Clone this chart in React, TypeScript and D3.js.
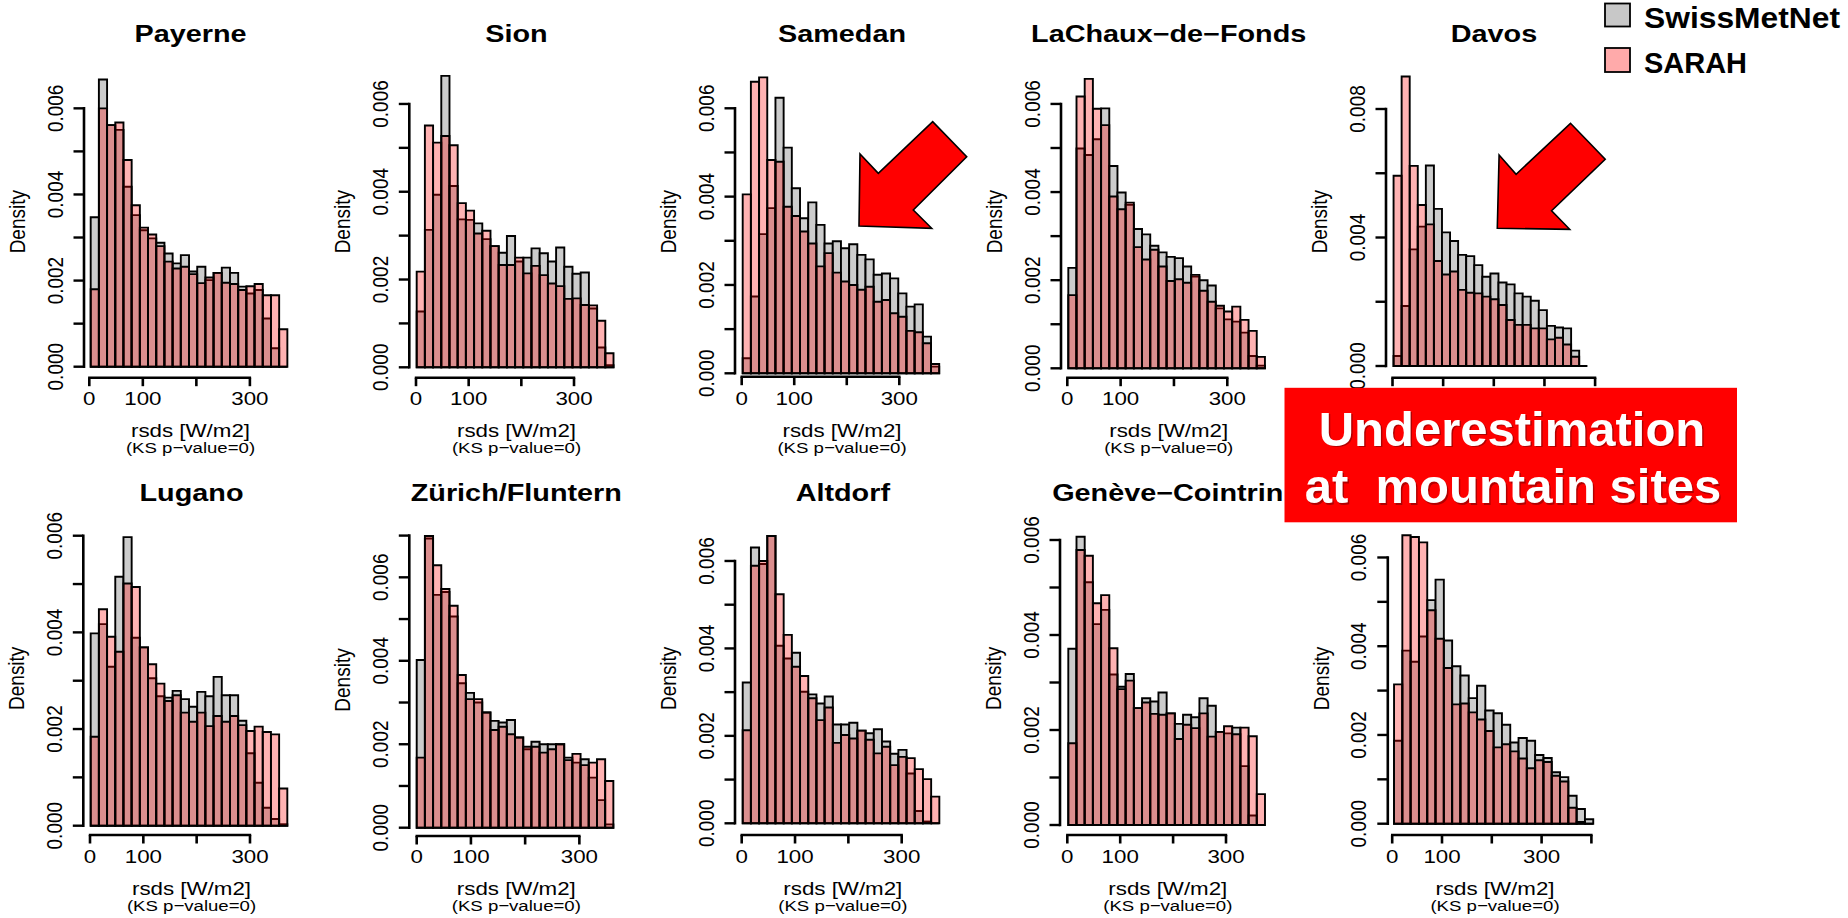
import React from "react";
import * as d3 from "d3";

// ---------------- DATA ----------------
const stations = [
  "Payerne",
  "Sion",
  "Samedan",
  "LaChaux−de−Fonds",
  "Davos",
  "Lugano",
  "Zürich/Fluntern",
  "Altdorf",
  "Genève−Cointrin",
  "",
];

// histogram range (rsds, W/m2) of the 24 equal bins per station
const binLo = [2.6, 1.3, 1.9, 1.9, 2.1, 1.3, 0, 1.9, 1.9, 3.7];
const binHi = [370, 375, 376, 370.6, 384.5, 370, 362.7, 370.6, 373.7, 403.7];

// densities in units of 1e-3
const swissmetnet = [
  [3.47, 6.67, 5.61, 5.5, 4.18, 3.52, 3.17, 2.98, 2.88, 2.63, 2.4, 2.59, 2.21, 2.32, 2.01, 2.18, 2.3, 2.18, 1.86, 1.7, 1.78, 1.12, 0.43, 0],
  [1.27, 3.13, 3.93, 6.64, 4.13, 3.37, 3.36, 3.28, 2.92, 2.76, 2.61, 2.99, 2.41, 2.5, 2.71, 2.6, 2.41, 2.73, 2.29, 2.13, 2.16, 1.34, 0.45, 0.05],
  [0.34, 1.74, 3.15, 3.74, 6.24, 5.11, 4.19, 3.51, 3.87, 3.36, 2.94, 2.99, 2.83, 2.92, 2.68, 2.58, 2.23, 2.26, 2.15, 1.81, 1.51, 1.56, 0.83, 0.15],
  [2.28, 4.99, 4.84, 5.2, 5.9, 4.59, 3.99, 3.71, 3.16, 3.04, 2.78, 2.63, 2.53, 2.5, 2.31, 2.08, 2.0, 1.88, 1.36, 1.11, 1.06, 0.81, 0.28, 0.06],
  [0.31, 1.87, 3.63, 4.34, 6.24, 4.89, 4.16, 3.89, 3.46, 3.42, 3.14, 2.78, 2.88, 2.6, 2.54, 2.26, 2.16, 2.03, 1.74, 1.25, 1.2, 1.17, 0.48, 0],
  [3.98, 4.17, 3.29, 5.15, 5.97, 3.89, 3.69, 3.05, 2.68, 2.65, 2.79, 2.62, 2.46, 2.77, 2.68, 3.08, 2.7, 2.7, 2.17, 1.5, 0.89, 0.37, 0.14, 0.03],
  [4.02, 6.93, 5.58, 5.65, 5.06, 3.46, 3.23, 3.0, 2.76, 2.56, 2.52, 2.58, 2.16, 1.88, 2.06, 2.0, 2.0, 2.0, 1.68, 1.56, 1.64, 1.2, 0.66, 0.08],
  [3.22, 6.31, 5.93, 6.57, 4.06, 3.77, 3.9, 3.01, 2.95, 2.74, 2.9, 2.26, 2.26, 2.3, 2.12, 2.06, 2.15, 1.87, 1.59, 1.68, 1.14, 0.28, 0.04, 0],
  [3.71, 6.07, 5.11, 4.23, 4.53, 3.17, 2.91, 3.18, 2.46, 2.67, 2.6, 2.79, 2.35, 2.13, 2.32, 2.27, 2.67, 2.51, 1.96, 1.93, 2.05, 1.24, 0.2, 0],
  [1.87, 3.9, 3.65, 4.22, 5.04, 5.5, 4.13, 3.55, 3.34, 2.83, 3.11, 2.55, 2.49, 2.23, 1.83, 1.93, 1.87, 1.55, 1.48, 1.16, 1.05, 0.63, 0.33, 0.1],
];

const sarah = [
  [1.8, 6.0, 5.61, 5.67, 4.8, 3.75, 3.23, 3.07, 2.8, 2.44, 2.28, 2.32, 2.15, 1.94, 2.07, 2.18, 1.95, 1.92, 1.78, 1.87, 1.92, 1.66, 1.66, 0.87],
  [2.18, 5.51, 5.12, 5.27, 5.06, 3.74, 3.57, 3.05, 3.11, 2.76, 2.33, 2.33, 2.5, 2.14, 2.31, 2.1, 1.91, 1.85, 1.56, 1.57, 1.42, 1.41, 1.06, 0.32],
  [4.05, 6.6, 6.7, 4.83, 4.79, 3.77, 3.56, 3.21, 2.94, 2.42, 2.72, 2.28, 2.08, 2.0, 1.89, 1.96, 1.62, 1.66, 1.36, 1.28, 0.96, 0.93, 0.68, 0.21],
  [1.66, 6.17, 6.57, 5.89, 5.52, 3.9, 3.61, 3.76, 2.75, 2.47, 2.69, 2.31, 1.98, 2.02, 1.94, 2.12, 1.76, 1.51, 1.42, 1.29, 1.4, 1.1, 0.85, 0.26],
  [5.92, 9.01, 6.23, 5.01, 4.41, 3.27, 2.85, 2.94, 2.37, 2.28, 2.26, 2.16, 2.08, 1.9, 1.43, 1.28, 1.28, 1.17, 1.17, 0.83, 0.88, 0.67, 0.29, 0],
  [1.84, 4.48, 3.91, 3.6, 5.01, 4.94, 3.69, 3.34, 2.94, 2.58, 2.7, 2.34, 2.15, 2.34, 2.06, 2.27, 2.15, 2.27, 2.08, 1.96, 2.05, 1.94, 1.89, 0.77],
  [1.68, 6.99, 6.29, 5.72, 5.32, 3.66, 3.08, 3.08, 2.76, 2.34, 2.42, 2.24, 2.16, 1.94, 1.94, 1.8, 1.88, 2.0, 1.62, 1.77, 1.5, 1.56, 1.64, 1.12],
  [2.13, 5.89, 6.0, 6.57, 5.24, 4.31, 3.58, 3.37, 2.86, 2.36, 2.65, 1.84, 2.02, 1.94, 2.12, 1.91, 1.6, 1.75, 1.33, 1.52, 1.49, 1.24, 1.01, 0.61],
  [1.72, 5.79, 5.67, 4.67, 4.84, 3.72, 2.86, 3.04, 2.46, 2.58, 2.34, 2.32, 2.35, 1.81, 2.11, 2.04, 2.35, 1.86, 1.96, 2.08, 1.91, 2.05, 1.87, 0.65],
  [3.14, 6.5, 6.46, 6.34, 4.81, 4.17, 3.51, 2.69, 2.71, 2.51, 2.35, 2.09, 1.72, 1.79, 1.63, 1.47, 1.25, 1.43, 1.39, 1.08, 0.95, 0.36, 0.04, 0],
];

// axis ticks per station
const yTickMax = [0.006, 0.006, 0.006, 0.006, 0.008, 0.006, 0.007, 0.006, 0.006, 0.006];
const yTickStep = [0.001, 0.001, 0.001, 0.001, 0.002, 0.001, 0.001, 0.001, 0.001, 0.001];
const yLabelStep = [0.002, 0.002, 0.002, 0.002, 0.004, 0.002, 0.002, 0.002, 0.002, 0.002];
const xTickMax = [300, 300, 300, 300, 400, 300, 300, 300, 300, 400];
const xTickLabels = [0, 100, 300];

const legendLabels = ["SwissMetNet", "SARAH"];
const noteLines = ["Underestimation", "at  mountain sites"];

// ---------------- LAYOUT (pixels) ----------------
type L = {
  yAxisX: number; y0: number; yk: number; x0: number; xk: number;
  xAxisY: number; cx: number; titleY: number; labY: number;
  tickY: number; xlabY: number; ksY: number; hideX?: boolean;
};
const TOP = { titleY: 41.5, tickY: 405, xlabY: 437.3, ksY: 452.5 };
const BOT = { titleY: 500.7, tickY: 863.3, xlabY: 895, ksY: 910.7 };
const layouts: L[] = [
  { yAxisX: 84, y0: 366.7, yk: 43.06, x0: 89.3, xk: 0.5353, xAxisY: 377.7, cx: 190.5, labY: 221.7, ...TOP },
  { yAxisX: 409.3, y0: 367.3, yk: 43.89, x0: 416, xk: 0.5267, xAxisY: 377.7, cx: 516.5, labY: 221.7, ...TOP },
  { yAxisX: 735, y0: 373.3, yk: 44.17, x0: 741.7, xk: 0.5253, xAxisY: 376.7, cx: 842, labY: 221.7, ...TOP },
  { yAxisX: 1061, y0: 368.3, yk: 44.06, x0: 1067.3, xk: 0.5333, xAxisY: 377.7, cx: 1168.7, labY: 221.7, ...TOP },
  { yAxisX: 1386, y0: 366, yk: 32.125, x0: 1392.5, xk: 0.5065, xAxisY: 377.7, cx: 1494, labY: 221.7, hideX: true, ...TOP },
  { yAxisX: 83.3, y0: 825.7, yk: 48.33, x0: 90, xk: 0.5333, xAxisY: 835, cx: 191.5, labY: 678.3, ...BOT },
  { yAxisX: 409.3, y0: 827.7, yk: 41.73, x0: 416.7, xk: 0.5422, xAxisY: 836, cx: 516.3, labY: 680, ...BOT },
  { yAxisX: 735, y0: 823.3, yk: 43.72, x0: 741.7, xk: 0.5333, xAxisY: 835, cx: 842.8, labY: 678.3, ...BOT },
  { yAxisX: 1060, y0: 825, yk: 47.5, x0: 1067.3, xk: 0.529, xAxisY: 835, cx: 1167.8, labY: 678.3, ...BOT },
  { yAxisX: 1387.8, y0: 823.7, yk: 44.37, x0: 1392.2, xk: 0.498, xAxisY: 835, cx: 1495, labY: 678.5, ...BOT },
];

const S = 1.2; // horizontal stretch of the original R figure
const FONT = "'Liberation Sans', Arial, Helvetica, sans-serif";
const GREY = "#cccccc";
const PINK = "rgba(255,0,0,0.3)";

function fmt(v: number) {
  return d3.format(".3f")(v);
}

function Panel({ i }: { i: number }) {
  const L = layouts[i];
  const x = d3.scaleLinear().domain([0, 100]).range([L.x0, L.x0 + 100 * L.xk]);
  const y = d3.scaleLinear().domain([0, 0.001]).range([L.y0, L.y0 - L.yk]);
  const n = swissmetnet[i].length;
  const w = (binHi[i] - binLo[i]) / n;
  const bins = d3.range(n).map((j) => [binLo[i] + j * w, binLo[i] + (j + 1) * w]);
  const barPath = (j: number, v: number) =>
    `M${x(bins[j][0])},${y(0)}V${y(v * 0.001)}H${x(bins[j][1])}V${y(0)}Z`;
  const yTicks = d3.range(0, yTickMax[i] + 1e-9, yTickStep[i]);
  const yLabs = d3.range(0, yTickMax[i] + 1e-9, yLabelStep[i]);
  const xTicks = d3.range(0, xTickMax[i] + 1e-9, 100);
  const ht = (px: number, py: number) => `translate(${px},${py}) scale(${S},1)`;
  const vt = (px: number, py: number) => `translate(${px},${py}) scale(${S},1) rotate(-90)`;
  return (
    <g fontFamily={FONT}>
      {swissmetnet[i].map((v, j) => (
        <path key={"g" + j} d={barPath(j, v)} fill={GREY} stroke="#000" strokeWidth={1.9} />
      ))}
      {sarah[i].map((v, j) => (
        <path key={"p" + j} d={barPath(j, v)} fill={PINK} stroke="#000" strokeWidth={1.9} />
      ))}
      {/* y axis */}
      <line x1={L.yAxisX} x2={L.yAxisX} y1={y(0)} y2={y(yTickMax[i])} stroke="#000" strokeWidth={2.6} strokeLinecap="square" />
      {yTicks.map((t, k) => (
        <line key={"yt" + k} x1={L.yAxisX - 10.5} x2={L.yAxisX} y1={y(t)} y2={y(t)} stroke="#000" strokeWidth={2.4} />
      ))}
      {yLabs.map((t, k) => (
        <text key={"yl" + k} transform={vt(L.yAxisX - 21.5, y(t))} textAnchor="middle" fontSize={19}>
          {fmt(t)}
        </text>
      ))}
      <text transform={vt(L.yAxisX - 59, L.labY)} textAnchor="middle" fontSize={19}>Density</text>
      {/* x axis */}
      <line x1={x(0)} x2={x(xTickMax[i])} y1={L.xAxisY} y2={L.xAxisY} stroke="#000" strokeWidth={2.4} strokeLinecap="square" />
      {xTicks.map((t, k) => (
        <line key={"xt" + k} x1={x(t)} x2={x(t)} y1={L.xAxisY} y2={L.xAxisY + 8.5} stroke="#000" strokeWidth={2.6} />
      ))}
      {!L.hideX &&
        xTickLabels.map((t, k) => (
          <text key={"xl" + k} transform={ht(x(t), L.tickY)} textAnchor="middle" fontSize={18.6}>
            {t}
          </text>
        ))}
      {!L.hideX && (
        <text transform={ht(L.cx, L.xlabY)} textAnchor="middle" fontSize={18.6}>rsds [W/m2]</text>
      )}
      {!L.hideX && (
        <text transform={ht(L.cx, L.ksY)} textAnchor="middle" fontSize={15.5}>(KS p−value=0)</text>
      )}
      {stations[i] && (
        <text transform={ht(L.cx, L.titleY)} textAnchor="middle" fontSize={24} fontWeight="bold">
          {stations[i]}
        </text>
      )}
    </g>
  );
}

// arrows (annotation shapes, in pixels)
const arrows = [
  [[859, 226], [860, 154], [878.3, 173.3], [932.7, 121.7], [966.7, 156.7], [913.3, 210], [931.7, 228.3]],
  [[1497.3, 228.3], [1499.1, 155], [1516.1, 174.3], [1570.5, 123.3], [1605.2, 159.3], [1551.6, 210.7], [1569.7, 229.3]],
];

export default function App() {
  const line = d3.line();
  return (
    <svg
      width={1848}
      height={918}
      viewBox="0 0 1848 918"
      style={{ position: "absolute", left: 0, top: 0, background: "#fff" }}
    >
      <rect x={0} y={0} width={1848} height={918} fill="#fff" />
      {stations.map((_, i) => (
        <Panel key={i} i={i} />
      ))}
      {arrows.map((pts, k) => (
        <path key={k} d={line(pts as [number, number][]) + "Z"} fill="#ff0000" stroke="#000" strokeWidth={1.6} strokeLinejoin="miter" />
      ))}
      {/* legend */}
      <g fontFamily={FONT} fontWeight="bold">
        <rect x={1605} y={3.5} width={25} height={23} fill="#c8c8c8" stroke="#000" strokeWidth={1.8} />
        <rect x={1605} y={48} width={25} height={24} fill="#ffaaaa" stroke="#000" strokeWidth={1.8} />
        <text x={1644} y={27.5} fontSize={30} textLength={196} lengthAdjust="spacingAndGlyphs">{legendLabels[0]}</text>
        <text x={1644} y={73} fontSize={30} textLength={103} lengthAdjust="spacingAndGlyphs">{legendLabels[1]}</text>
      </g>
      {/* note box */}
      <rect x={1284.5} y={387.8} width={452.5} height={134.5} fill="#ff0000" />
      <g fontFamily={FONT} fontWeight="bold" fontSize={49} textAnchor="middle">
        <text x={1513.5} y={447} fill="rgba(0,0,0,0.3)" style={{ whiteSpace: "pre" }} xmlSpace="preserve">{noteLines[0]}</text>
        <text x={1514.5} y={504.5} fill="rgba(0,0,0,0.3)" style={{ whiteSpace: "pre" }} xmlSpace="preserve">{noteLines[1]}</text>
        <text x={1512} y={445.5} fill="#fff" style={{ whiteSpace: "pre" }} xmlSpace="preserve">{noteLines[0]}</text>
        <text x={1513} y={503} fill="#fff" style={{ whiteSpace: "pre" }} xmlSpace="preserve">{noteLines[1]}</text>
      </g>
    </svg>
  );
}
